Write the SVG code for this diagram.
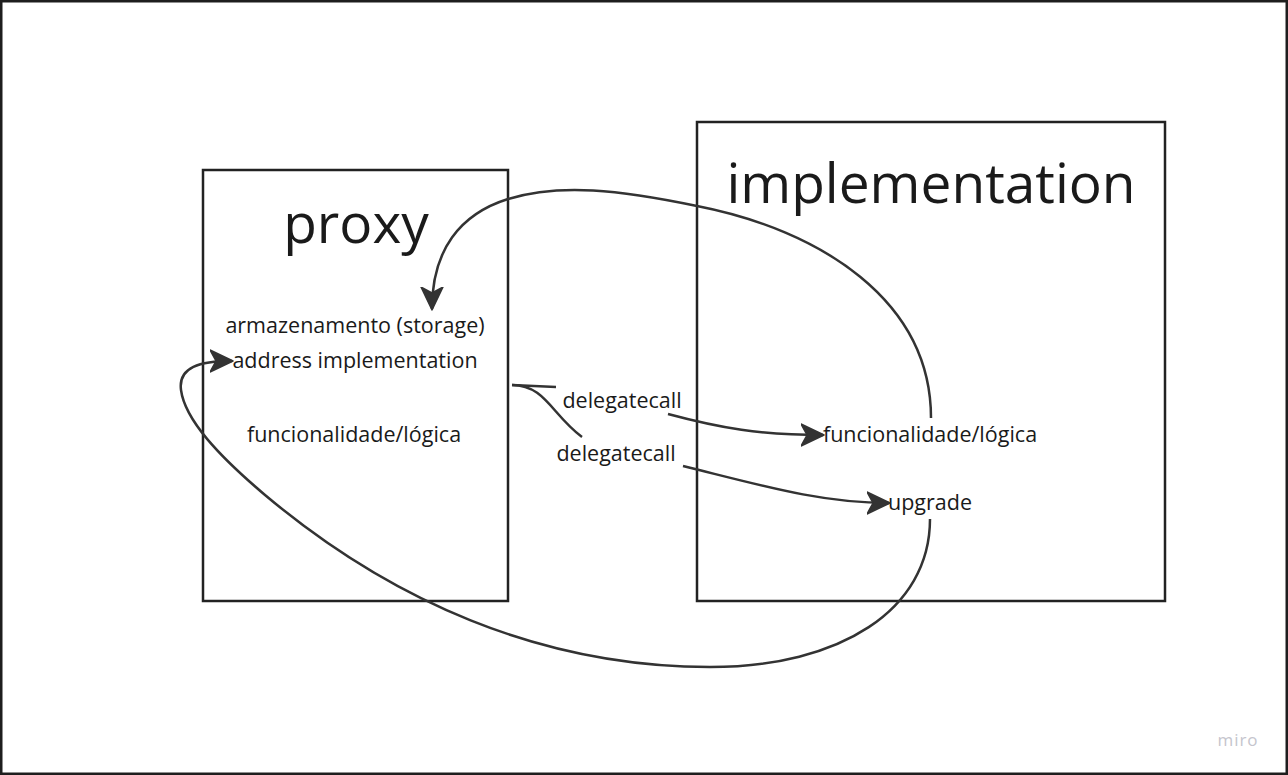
<svg xmlns="http://www.w3.org/2000/svg" width="1288" height="775" viewBox="0 0 1288 775">
<defs>
<style>
.box{fill:none;stroke:#222;stroke-width:2.5}
.conn{fill:none;stroke:#333;stroke-width:2.5}
.t{font-family:"Open Sans","Noto Sans","Liberation Sans",sans-serif;fill:#1a1a1a;text-anchor:middle}
.s{font-size:21.5px}
.big{font-size:55px}
</style>
<marker id="ah" viewBox="0 0 24 24" refX="22" refY="12" markerWidth="24" markerHeight="24" markerUnits="userSpaceOnUse" orient="auto">
<path d="M0,1 L23,12 L0,23 L6,12 Z" fill="#333" stroke="#333" stroke-width="1.5" stroke-linejoin="round"/>
</marker>
</defs>
<rect x="0" y="0" width="1288" height="775" fill="#fff"/>
<rect x="1.25" y="1.25" width="1285.5" height="772.5" fill="none" stroke="#1e1e1e" stroke-width="2.5"/>
<g id="proxy">
<rect class="box" x="203" y="170" width="305" height="431"/>
<text class="t big" x="356" y="243">proxy</text>
<text class="t s" x="355" y="333">armazenamento (storage)</text>
<text class="t s" x="355" y="368">address implementation</text>
<text class="t s" x="354" y="442">funcionalidade/lógica</text>
</g>
<g id="implementation">
<rect class="box" x="697" y="122" width="468" height="479"/>
<text class="t big" x="931" y="203">implementation</text>
<text class="t s" x="930" y="442">funcionalidade/lógica</text>
<text class="t s" x="930" y="510">upgrade</text>
</g>
<g id="connectors">
<path class="conn" d="M 931 418 C 931 300 820 230 697 206 C 620 190 560 183 508 199 C 460 214 432 250 432 309" marker-end="url(#ah)"/>
<path class="conn" d="M 930 519 C 930 610 840 667 710 667 C 540 667 390 600 265 495 C 219 456 185 420 181 390 C 178 367 200 361 232 361" marker-end="url(#ah)"/>
<path class="conn" d="M 512 385 L 556 387"/>
<path class="conn" d="M 668 414 C 720 428 760 435 823 435" marker-end="url(#ah)"/>
<path class="conn" d="M 512 385 C 545 385 552 415 582 437"/>
<path class="conn" d="M 683 466 C 760 485 820 503 889 503" marker-end="url(#ah)"/>
<text class="t s" x="622" y="408">delegatecall</text>
<text class="t s" x="616" y="461">delegatecall</text>
</g>
<text x="1238" y="746" font-family="'Open Sans',sans-serif" font-size="17" fill="#c5c5cd" text-anchor="middle" letter-spacing="1">miro</text>
</svg>
